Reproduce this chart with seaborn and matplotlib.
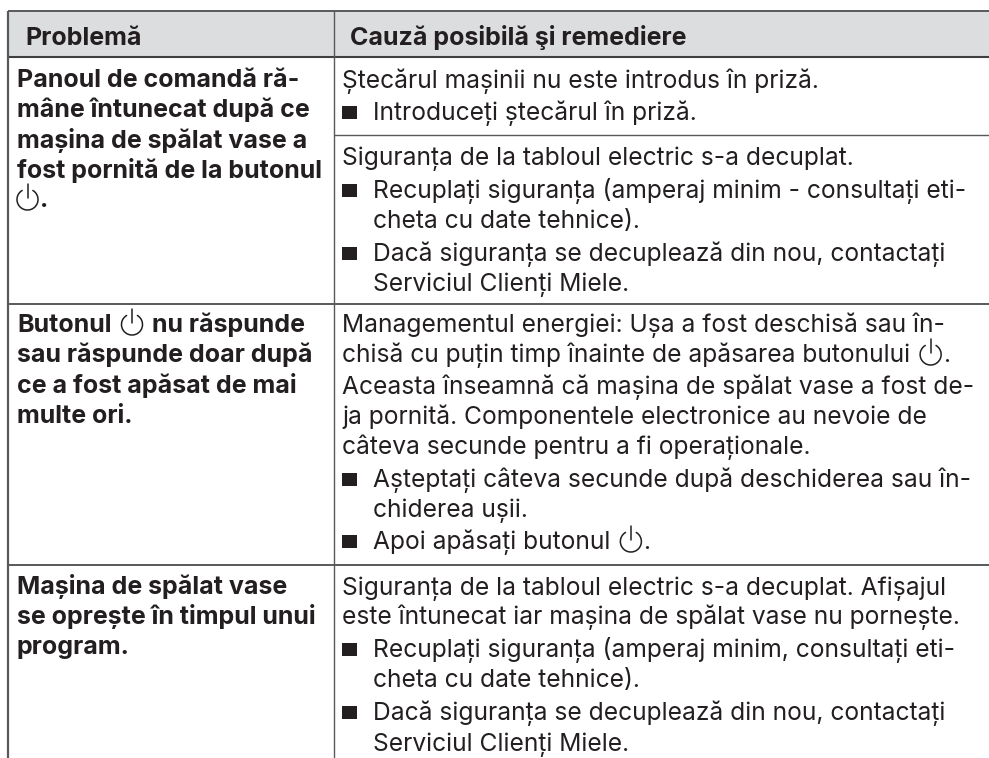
import matplotlib
matplotlib.use("Agg")
import matplotlib.pyplot as plt
from matplotlib.patches import Arc, Rectangle
import seaborn as sns

ICON = "<power>"
header_labels = ["Problemă", "Cauză posibilă şi remediere"]

left_lines = [
    ["Panoul de comandă ră-"], ["mâne întunecat după ce"], ["mașina de spălat vase a"],
    ["fost pornită de la butonul"], [ICON, "."],
    ["Butonul", ICON, "nu răspunde"], ["sau răspunde doar după"], ["ce a fost apăsat de mai"], ["multe ori."],
    ["Mașina de spălat vase"], ["se oprește în timpul unui"], ["program."],
]
left_y = [87, 117, 148, 178, 207, 332, 362, 393, 423, 594, 624, 654]

right_lines = [
    (0, ["Ștecărul mașinii nu este introdus în priză."]),
    (1, ["Introduceți ștecărul în priză."]),
    (0, ["Siguranța de la tabloul electric s-a decuplat."]),
    (1, ["Recuplați siguranța (amperaj minim - consultați eti-"]),
    (2, ["cheta cu date tehnice)."]),
    (1, ["Dacă siguranța se decuplează din nou, contactați"]),
    (2, ["Serviciul Clienți Miele."]),
    (0, ["Managementul energiei: Ușa a fost deschisă sau în-"]),
    (0, ["chisă cu puțin timp înainte de apăsarea butonului", ICON, "."]),
    (0, ["Aceasta înseamnă că mașina de spălat vase a fost de-"]),
    (0, ["ja pornită. Componentele electronice au nevoie de"]),
    (0, ["câteva secunde pentru a fi operaționale."]),
    (1, ["Așteptați câteva secunde după deschiderea sau în-"]),
    (2, ["chiderea ușii."]),
    (1, ["Apoi apăsați butonul", ICON, "."]),
    (0, ["Siguranța de la tabloul electric s-a decuplat. Afișajul"]),
    (0, ["este întunecat iar mașina de spălat vase nu pornește."]),
    (1, ["Recuplați siguranța (amperaj minim, consultați eti-"]),
    (2, ["cheta cu date tehnice)."]),
    (1, ["Dacă siguranța se decuplează din nou, contactați"]),
    (2, ["Serviciul Clienți Miele."]),
]
right_y = [88, 120, 165, 198, 228, 261, 291, 332, 362, 394, 424, 454, 487, 517, 549,
           595, 624, 657, 687, 720, 751]

W, H = 989, 758
INK = "#231f20"
LINE = "#58595b"
FONT = "Inter"
SIZE = 17.7
BOLD_SIZE = 18.0

sns.set_theme(style="white", rc={"font.family": [FONT, "DejaVu Sans"]})
fig = plt.figure(figsize=(W / 100, H / 100), dpi=100)
ax = fig.add_axes([0, 0, 1, 1])
ax.set_xlim(0, W)
ax.set_ylim(H, 0)
ax.axis("off")
sns.despine(ax=ax, left=True, bottom=True)


def power(x, base, first=False):
    """Stand-by symbol, drawn because no installed font has it; x is where the previous word ends."""
    pad = 0 if first else 10
    r = 10.5
    cx, cy = x + pad + r, base - 7.5
    ax.add_patch(Arc((cx, cy), 2 * r, 2 * r, theta1=-62, theta2=242,
                     lw=1.1, color=INK, zorder=3))
    ax.plot([cx, cx], [base - 23, base - 9], color=INK, lw=1.1, zorder=3)
    return pad + 2 * r + 2


def segments(x, base, parts, weight="normal", size=SIZE):
    r = fig.canvas.get_renderer()
    for i, p in enumerate(parts):
        if p == ICON:
            x += power(x, base, first=(i == 0))
            # a following word sits one word gap after the symbol
            if i + 1 < len(parts) and parts[i + 1] != ".":
                x += 8
            continue
        ax.text(x, base, p, fontsize=size, fontweight=weight, color=INK, va="baseline", ha="left", zorder=3)
        probe = ax.text(0, 0, p + "|", fontsize=size, fontweight=weight)
        guard = ax.text(0, 0, "|", fontsize=size, fontweight=weight)
        x += probe.get_window_extent(r).width - guard.get_window_extent(r).width
        probe.remove()
        guard.remove()


# frame
ax.add_patch(Rectangle((8, 11), W - 8, 46, facecolor="#dcddde", edgecolor="none", zorder=1))
kw = dict(color=LINE, zorder=2, solid_capstyle="butt")
ax.plot([8, W], [11, 11], lw=1.4, **kw)
ax.plot([8, W], [57, 57], lw=1.5, color="#404042", zorder=2, solid_capstyle="butt")
ax.plot([8, W], [304, 304], lw=1.4, **kw)
ax.plot([8, W], [565, 565], lw=1.4, **kw)
ax.plot([333.5, W], [135, 135], lw=1.0, **kw)
ax.plot([8, 8], [11, H], lw=1.6, **kw)
ax.plot([333.5, 333.5], [11, H], lw=1.0, **kw)

# header
segments(25, 45, [header_labels[0]], weight="bold", size=BOLD_SIZE)
segments(350, 45, [header_labels[1]], weight="bold", size=BOLD_SIZE)

# left column
for parts, y in zip(left_lines, left_y):
    segments(17, y, parts, weight="bold", size=BOLD_SIZE)

# right column
for (indent, parts), y in zip(right_lines, right_y):
    if indent == 1:
        ax.add_patch(Rectangle((342, y - 14), 15, 13, facecolor=INK, edgecolor="none", zorder=3))
    segments(373 if indent else 342, y, parts)

fig.savefig("out.png", dpi=100)
